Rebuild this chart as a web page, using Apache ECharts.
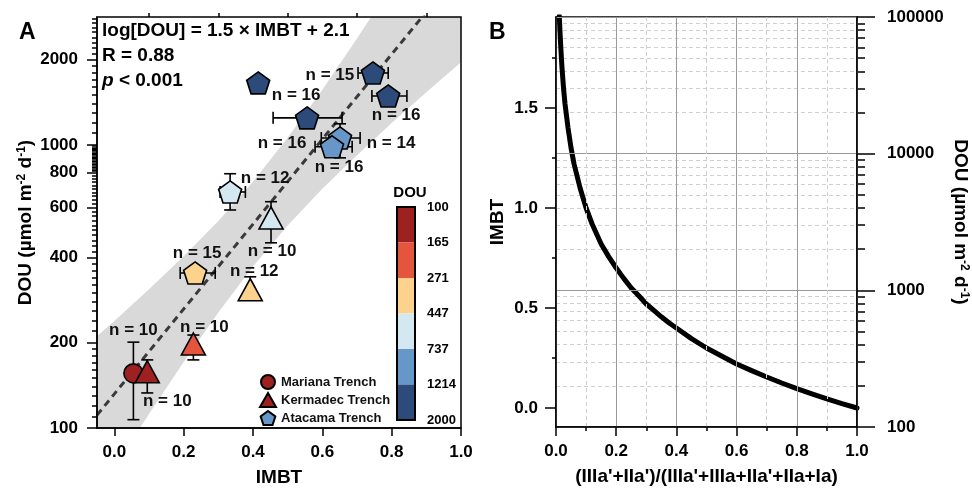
<!DOCTYPE html>
<html>
<head>
<meta charset="utf-8">
<script src="https://cdn.jsdelivr.net/npm/echarts@6/dist/echarts.min.js"></script>
<style>
    html, body { margin: 0; padding: 0; background: #fff; }
    #chart { width: 972px; height: 488px; }
</style>
</head>
<body>
<div id="chart"></div>
<script>
// ---------- panel A : sites ----------
// Mariana Trench
let marX = [0.055];
let marDOU = [156];
let marYLo = [107];
let marYHi = [201];
let marN = [10];
let marLabelPos = [[0, -43]];

// Kermadec Trench
let kerX = [0.095, 0.228, 0.392, 0.452];
let kerDOU = [158, 198, 308, 552];
let kerYLo = [133, 174, 296, 451];
let kerYHi = [174, 213, 342, 630];
let kerN = [10, 10, 12, 10];
let kerLabelPos = [[20, 30], [11, -17], [4, -18], [1, 33]];

// Atacama Trench
let ataX = [0.415, 0.746, 0.790, 0.556, 0.651, 0.628, 0.334, 0.233];
let ataDOU = [1656, 1795, 1489, 1246, 1058, 985, 682, 353];
let ataXLo = [null, 0.703, 0.743, 0.458, 0.597, 0.579, 0.305, 0.190];
let ataXHi = [null, 0.790, 0.844, 0.657, 0.709, 0.686, 0.378, 0.291];
let ataYLo = [null, null, null, null, 900, null, 589, null];
let ataYHi = [null, null, null, null, 1187, null, 791, null];
let ataN = [16, 15, 16, 16, 14, 16, 12, 15];
let ataLabelPos = [[38, 12], [-43, 2], [8, 19], [-25, 25], [51, 5], [7, 21], [35, -14], [2, -20]];

// regression line and its confidence band
let fitX = [-0.05, 1.0];
let fitDOU = [111, 4170];
let bandX = [-0.05, 0, 0.1, 0.2, 0.3, 0.4, 0.5, 0.6, 0.7, 0.8, 0.9, 1.0];
let bandHi = [211, 239, 309, 404, 539, 741, 1059, 1567, 2377, 3656, 5675, 8872];
let bandLo = [58, 73, 112, 171, 256, 372, 519, 700, 920, 1194, 1535, 1959];

// colour scale
let cbBounds = [100, 165, 271, 447, 737, 1214, 2000];
let cbColors = ['#9e2121', '#e5553d', '#fdd28c', '#d4e8f2', '#6797c9', '#2c4a7a'];

// axis labels panel A
let aXLabels = [0, 0.2, 0.4, 0.6, 0.8, 1.0];
let aXMinor = [0.1, 0.3, 0.5, 0.7, 0.9];
let aYLabels = [100, 200, 400, 600, 800, 1000, 2000];

// ---------- panel B ----------
let curveX = [0.011, 0.013, 0.016, 0.02, 0.025, 0.03, 0.04, 0.05, 0.06, 0.08, 0.1, 0.12, 0.15, 0.175, 0.2, 0.225, 0.25, 0.275, 0.3, 0.325, 0.35, 0.375, 0.4, 0.45, 0.5, 0.55, 0.6, 0.65, 0.7, 0.75, 0.8, 0.85, 0.9, 0.95, 1.0];
let curveIMBT = [1.96, 1.89, 1.80, 1.70, 1.60, 1.52, 1.40, 1.30, 1.22, 1.10, 1.00, 0.92, 0.82, 0.757, 0.70, 0.648, 0.60, 0.561, 0.52, 0.488, 0.456, 0.426, 0.40, 0.347, 0.30, 0.26, 0.22, 0.187, 0.155, 0.125, 0.097, 0.071, 0.046, 0.022, 0.0];
let imbtLabels = [0, 0.5, 1.0, 1.5];
let imbtMinor = [0.25, 0.75, 1.25, 1.75];
let douLabels = [100, 1000, 10000, 100000];

function range(a, b, step) {
    let out = [];
    for (let v = a; v <= b + 1e-9; v += step) out.push(Math.round(v));
    return out;
}
let aYMinor = [].concat(range(110, 190, 10), range(220, 380, 20), range(420, 580, 20),
    range(620, 780, 20), range(810, 990, 10), range(1100, 1900, 100), range(2100, 2800, 100));
let douMinor = [].concat(range(200, 900, 100), range(2000, 9000, 1000), range(20000, 90000, 10000));

const FONT = 'Liberation Sans, Arial, sans-serif';
const BLACK = { color: '#000', width: 1.5 };
const PENTAGON = 'path://M50,0 L97.6,34.5 L79.4,90.5 L20.6,90.5 L2.4,34.5 Z';

function colorFor(v) {
    for (let i = 0; i < cbColors.length; i++) {
        if (v < cbBounds[i + 1]) return cbColors[i];
    }
    return cbColors[cbColors.length - 1];
}

function pts(xs, ys, pos) {
    return xs.map((x, i) => ({
        value: [x, ys[i]],
        itemStyle: { color: colorFor(ys[i]) },
        label: { offset: pos[i] }
    }));
}

function errSeries(xs, ys, xlo, xhi, ylo, yhi) {
    return {
        type: 'custom',
        xAxisIndex: 0, yAxisIndex: 0,
        z: 3, silent: true,
        data: xs.map((x, i) => [x, ys[i]]),
        renderItem: function (params, api) {
            let i = params.dataIndex;
            let kids = [];
            let st = { stroke: '#000', lineWidth: 1.6 };
            let cap = 6;
            function seg(x1, y1, x2, y2) {
                kids.push({ type: 'line', shape: { x1: x1, y1: y1, x2: x2, y2: y2 }, style: st });
            }
            if (xlo && xlo[i] != null) {
                let a = api.coord([xlo[i], ys[i]]), b = api.coord([xhi[i], ys[i]]);
                seg(a[0], a[1], b[0], b[1]);
                seg(a[0], a[1] - cap, a[0], a[1] + cap);
                seg(b[0], b[1] - cap, b[0], b[1] + cap);
            }
            if (ylo && ylo[i] != null) {
                let a = api.coord([xs[i], ylo[i]]), b = api.coord([xs[i], yhi[i]]);
                seg(a[0], a[1], b[0], b[1]);
                seg(a[0] - cap, a[1], a[0] + cap, a[1]);
                seg(b[0] - cap, b[1], b[0] + cap, b[1]);
            }
            return { type: 'group', children: kids };
        }
    };
}

function nLabel(ns) {
    return {
        show: true, position: 'inside', align: 'center', verticalAlign: 'middle',
        fontSize: 17, fontWeight: 'bold', color: '#111', fontFamily: FONT,
        formatter: p => 'n = ' + ns[p.dataIndex]
    };
}

const tickLabel = { fontSize: 17, fontWeight: 'bold', color: '#000', fontFamily: FONT };
const nameStyle = {
    fontSize: 19, fontWeight: 'bold', color: '#000', fontFamily: FONT,
    rich: { sup: { fontSize: 12, fontWeight: 'bold', color: '#000', fontFamily: FONT, verticalAlign: 'top', lineHeight: 12 } }
};
const douName = 'DOU (µmol m{sup|-2} d{sup|-1})';

var chart = echarts.init(document.getElementById('chart'), null, { renderer: 'canvas' });

let cbSeries = cbColors.map((c, i) => ({
    type: 'bar', xAxisIndex: 3, yAxisIndex: 6, stack: 'cb', silent: true,
    barWidth: '100%', data: [1], itemStyle: { color: c }
}));

var option = {
    animation: false,
    textStyle: { fontFamily: FONT },
    title: [
        { text: 'A', left: 19, top: 21, padding: 0, textStyle: { fontSize: 23, fontWeight: 'bold', color: '#000' } },
        { text: 'B', left: 489, top: 21, padding: 0, textStyle: { fontSize: 23, fontWeight: 'bold', color: '#000' } },
        {
            text: '{a|log[DOU] = 1.5 × IMBT + 2.1}\n{a|R = 0.88}\n{i|p}{a| < 0.001}',
            left: 102, top: 18, padding: 0,
            textStyle: {
                rich: {
                    a: { fontSize: 19, fontWeight: 'bold', color: '#000', lineHeight: 25, fontFamily: FONT },
                    i: { fontSize: 19, fontWeight: 'bold', fontStyle: 'italic', color: '#000', lineHeight: 25, fontFamily: FONT }
                }
            }
        },
        { text: 'DOU', left: 410, top: 185, textAlign: 'center', padding: 0, textStyle: { fontSize: 15, fontWeight: 'bold', color: '#000' } }
    ],
    legend: {
        data: ['Mariana Trench', 'Kermadec Trench', 'Atacama Trench'],
        orient: 'vertical', left: 259, top: 374, itemGap: 2,
        itemWidth: 16, itemHeight: 14, padding: 0,
        textStyle: { fontSize: 13, fontWeight: 'bold', color: '#111' }
    },
    grid: [
        { left: 97, top: 17, width: 364, height: 411, show: true, borderColor: '#000', borderWidth: 1.5, z: 3, outerBoundsMode: 'none' },
        { left: 556, top: 17, width: 301, height: 410, show: true, borderColor: '#000', borderWidth: 1.5, z: 3, outerBoundsMode: 'none' },
        { left: 397, top: 207, width: 18, height: 213, show: true, borderColor: '#000', borderWidth: 2, z: 3, outerBoundsMode: 'none' }
    ],
    xAxis: [
        {
            gridIndex: 0, type: 'value', min: -0.05, max: 1.0, z: 5,
            axisLine: { onZero: false, lineStyle: BLACK },
            axisTick: { length: 8, lineStyle: BLACK, customValues: aXLabels },
            axisLabel: Object.assign({ customValues: aXLabels, margin: 16, formatter: v => v.toFixed(1) }, tickLabel),
            splitLine: { show: false },
            name: 'IMBT', nameLocation: 'middle', nameGap: 40, nameTextStyle: nameStyle
        },
        {
            gridIndex: 0, type: 'value', min: -0.05, max: 1.0,
            axisLine: { show: false, onZero: false },
            axisTick: { length: 4, lineStyle: BLACK, customValues: aXMinor },
            axisLabel: { show: false }, splitLine: { show: false }
        },
        {
            gridIndex: 1, type: 'value', min: 0, max: 1, interval: 0.2, z: 5,
            axisLine: { onZero: false, lineStyle: BLACK },
            axisTick: { length: 9, lineStyle: BLACK },
            minorTick: { show: true, splitNumber: 2, length: 4, lineStyle: BLACK },
            axisLabel: Object.assign({ margin: 16, formatter: v => v.toFixed(1) }, tickLabel),
            splitLine: { show: true, lineStyle: { color: '#9a9a9a', width: 1 } },
            minorSplitLine: { show: true, lineStyle: { color: '#cfcfcf', width: 1, type: [4, 3] } },
            name: "(IIIa'+IIa')/(IIIa'+IIIa+IIa'+IIa+Ia)", nameLocation: 'middle', nameGap: 40, nameTextStyle: nameStyle
        },
        { gridIndex: 2, type: 'category', data: ['c'], show: false }
    ],
    yAxis: [
        {
            gridIndex: 0, type: 'log', logBase: 10, min: 100, max: 2830, position: 'left', z: 5,
            axisLine: { onZero: false, lineStyle: BLACK },
            axisTick: { length: 10, lineStyle: BLACK, customValues: aYLabels },
            axisLabel: Object.assign({ customValues: aYLabels, margin: 19, formatter: v => String(v) }, tickLabel),
            splitLine: { show: false },
            name: douName, nameLocation: 'middle', nameGap: 62, nameTextStyle: nameStyle
        },
        {
            gridIndex: 0, type: 'log', logBase: 10, min: 100, max: 2830, position: 'left',
            axisLine: { show: false, onZero: false },
            axisTick: { length: 5, lineStyle: BLACK, customValues: aYMinor },
            axisLabel: { show: false }, splitLine: { show: false }
        },
        {
            gridIndex: 1, type: 'value', min: -0.095, max: 1.955, position: 'left', z: 5,
            axisLine: { onZero: false, lineStyle: BLACK },
            axisTick: { length: 11, lineStyle: BLACK, customValues: imbtLabels },
            axisLabel: Object.assign({ customValues: imbtLabels, margin: 18, formatter: v => v.toFixed(1) }, tickLabel),
            splitLine: { show: false },
            name: 'IMBT', nameLocation: 'middle', nameGap: 49, nameTextStyle: nameStyle
        },
        {
            gridIndex: 1, type: 'value', min: -0.095, max: 1.955, position: 'left',
            axisLine: { show: false, onZero: false },
            axisTick: { length: 4, lineStyle: BLACK, customValues: imbtMinor },
            axisLabel: { show: false }, splitLine: { show: false }
        },
        {
            gridIndex: 1, type: 'log', logBase: 10, min: 100, max: 100000, position: 'right', z: 5,
            axisLine: { onZero: false, lineStyle: BLACK },
            axisTick: { length: 18, lineStyle: BLACK, customValues: douLabels },
            axisLabel: Object.assign({ customValues: douLabels, margin: 30, formatter: v => String(v) }, tickLabel),
            splitLine: { show: true, lineStyle: { color: '#9a9a9a', width: 1 } },
            name: douName, nameLocation: 'middle', nameGap: 94, nameRotate: -90, nameTextStyle: nameStyle
        },
        {
            gridIndex: 1, type: 'log', logBase: 10, min: 100, max: 100000, position: 'right',
            axisLine: { show: false, onZero: false },
            axisTick: { length: 8, lineStyle: BLACK, customValues: douMinor },
            axisLabel: { show: false },
            splitLine: { show: true, lineStyle: { color: '#cfcfcf', width: 1, type: [4, 3] } }
        },
        {
            gridIndex: 2, type: 'value', min: 0, max: 6, interval: 1, inverse: true, position: 'right', z: 5,
            axisLine: { onZero: false, lineStyle: BLACK },
            axisTick: { length: 6, lineStyle: BLACK },
            axisLabel: { margin: 12, fontSize: 13, fontWeight: 'bold', color: '#000', formatter: v => String(cbBounds[v]) },
            splitLine: { show: false }
        }
    ],
    series: [
        {
            type: 'custom', xAxisIndex: 0, yAxisIndex: 0, z: 1, silent: true, clip: true,
            data: [[0.5, 500]],
            renderItem: function (params, api) {
                let poly = [];
                bandX.forEach((x, i) => poly.push(api.coord([x, bandHi[i]])));
                for (let i = bandX.length - 1; i >= 0; i--) poly.push(api.coord([bandX[i], bandLo[i]]));
                return { type: 'polygon', shape: { points: poly }, style: { fill: '#d9d9d9' } };
            }
        },
        {
            type: 'line', xAxisIndex: 0, yAxisIndex: 0, z: 2, silent: true,
            data: fitX.map((x, i) => [x, fitDOU[i]]),
            symbol: 'none',
            lineStyle: { color: '#3a3a3a', width: 3, type: [7, 5] }
        },
        errSeries(marX, marDOU, null, null, marYLo, marYHi),
        errSeries(kerX, kerDOU, null, null, kerYLo, kerYHi),
        errSeries(ataX, ataDOU, ataXLo, ataXHi, ataYLo, ataYHi),
        {
            name: 'Mariana Trench', type: 'scatter', xAxisIndex: 0, yAxisIndex: 0, z: 4,
            symbol: 'circle', symbolSize: 19,
            itemStyle: { color: '#9e2121', borderColor: '#000', borderWidth: 1.6, opacity: 1 },
            label: nLabel(marN),
            data: pts(marX, marDOU, marLabelPos)
        },
        {
            name: 'Kermadec Trench', type: 'scatter', xAxisIndex: 0, yAxisIndex: 0, z: 4,
            symbol: 'triangle', symbolSize: [24, 22],
            itemStyle: { color: '#9e2121', borderColor: '#000', borderWidth: 1.6, opacity: 1 },
            label: nLabel(kerN),
            data: pts(kerX, kerDOU, kerLabelPos)
        },
        {
            name: 'Atacama Trench', type: 'scatter', xAxisIndex: 0, yAxisIndex: 0, z: 4,
            symbol: PENTAGON, symbolSize: [23, 22],
            itemStyle: { color: '#6797c9', borderColor: '#000', borderWidth: 1.6, opacity: 1 },
            label: nLabel(ataN),
            data: pts(ataX, ataDOU, ataLabelPos)
        },
        {
            type: 'line', xAxisIndex: 2, yAxisIndex: 2, z: 4, silent: true,
            data: curveX.map((x, i) => [x, curveIMBT[i]]),
            symbol: 'none', smooth: false,
            lineStyle: { color: '#000', width: 5, join: 'round', cap: 'round' }
        }
    ].concat(cbSeries)
};
chart.setOption(option);
</script>
</body>
</html>
